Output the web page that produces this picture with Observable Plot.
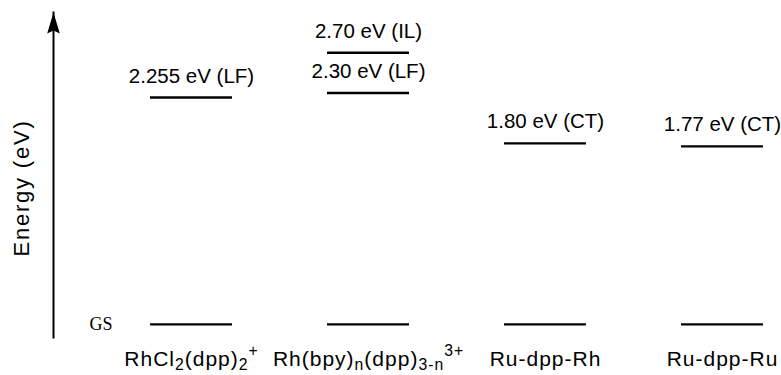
<!DOCTYPE html>
<html>
<head>
<meta charset="utf-8">
<script src="https://cdn.jsdelivr.net/npm/d3@7"></script>
<script src="https://cdn.jsdelivr.net/npm/@observablehq/plot@0.6"></script>
<style>
  html, body { margin: 0; padding: 0; background: #fff; }
</style>
</head>
<body>
<div id="chart"></div>
<script>
// ---- data ----
const categories = [
  "RhCl_{2}(dpp)_{2}^{+}",
  "Rh(bpy)_{n}(dpp)_{3-n}^{3+}",
  "Ru-dpp-Rh",
  "Ru-dpp-Ru"
];
const stateCategory = [categories[0], categories[1], categories[1], categories[2], categories[3]];
const stateEnergy = [2.255, 2.70, 2.30, 1.80, 1.77];
const stateLabel = ["2.255 eV (LF)", "2.70 eV (IL)", "2.30 eV (LF)", "1.80 eV (CT)", "1.77 eV (CT)"];
const groundEnergy = 0;
const groundLabel = "GS";
const axisLabel = "Energy (eV)";

// ---- tables ----
const levels = stateEnergy.map((e, i) => ({category: stateCategory[i], energy: e, label: stateLabel[i]}));
const ground = categories.map(c => ({category: c, energy: groundEnergy}));

const sans = "'Liberation Sans', Arial, Helvetica, sans-serif";
const serif = "'Liberation Serif', 'Times New Roman', serif";

const arrowHead = {
  draw(context, size) {
    const r = Math.sqrt(size / Math.PI);
    context.moveTo(0, 0);
    context.lineTo(0.3 * r, r);
    context.lineTo(0, 0.86 * r);
    context.lineTo(-0.3 * r, r);
    context.closePath();
  }
};

const yDomain = [-0.13, 3.1];

const chart = Plot.plot({
  width: 781,
  height: 375,
  marginLeft: 53,
  marginRight: 0,
  marginTop: 12,
  marginBottom: 38,
  style: {fontFamily: sans, background: "#fff", color: "#000", overflow: "visible"},
  x: {type: "band", domain: categories, paddingInner: 0.539, paddingOuter: 0, insetLeft: 95, insetRight: 17, axis: null},
  y: {domain: yDomain, axis: null},
  marks: [
    Plot.frame({anchor: "left", stroke: "#000", strokeWidth: 2}),
    Plot.dot([0], {frameAnchor: "top-left", symbol: arrowHead, r: 21, fill: "#000", stroke: "none"}),
    Plot.tickY(ground, {x: "category", y: "energy", stroke: "#000", strokeWidth: 2.3}),
    Plot.tickY(levels, {x: "category", y: "energy", stroke: "#000", strokeWidth: 2.3}),
    Plot.text(levels, {x: "category", y: "energy", text: "label", lineAnchor: "bottom", dy: -15, fontSize: 20.5, fill: "#000"}),
    Plot.text([groundLabel], {x: () => categories[0], y: () => groundEnergy, text: d => d, textAnchor: "end", lineAnchor: "middle", dx: -79, fontFamily: serif, fontSize: 18, fill: "#000"}),
    Plot.text(categories, {x: d => d, text: d => d, frameAnchor: "bottom", textAnchor: "middle", lineAnchor: "bottom", dy: 28, fontSize: 21, fill: "#000", ariaLabel: () => "category-label"}),
    Plot.text([axisLabel], {text: d => d, frameAnchor: "left", textAnchor: "middle", rotate: -90, lineAnchor: "bottom", dx: -25, dy: 13, fontSize: 22, fill: "#000", ariaLabel: () => "energy-label"})
  ]
});

// rich text: _{sub} and ^{sup}
function setRich(el, fontSize) {
  const markup = el.textContent;
  const parts = [];
  const re = /(_|\^)\{([^}]*)\}/g;
  let last = 0, m;
  while ((m = re.exec(markup))) {
    if (m.index > last) parts.push({t: markup.slice(last, m.index), k: "n"});
    parts.push({t: m[2], k: m[1] === "_" ? "sub" : "sup"});
    last = re.lastIndex;
  }
  if (last < markup.length) parts.push({t: markup.slice(last), k: "n"});
  const sel = d3.select(el);
  sel.text(null);
  let cur = 0;
  for (const p of parts) {
    const shift = p.k === "sub" ? 4.5 : p.k === "sup" ? -10 : 0;
    const ts = sel.append("tspan").text(p.t);
    if (p.k !== "n") ts.attr("font-size", fontSize * 0.75);
    if (shift !== cur) ts.attr("dy", shift - cur);
    cur = shift;
  }
}
const svg = d3.select(chart);
svg.selectAll('text[aria-label="category-label"]').each(function() { setRich(this, 21); }).attr("letter-spacing", 1);
svg.selectAll('text[aria-label="energy-label"]').attr("letter-spacing", 1.8);

document.getElementById("chart").appendChild(chart);
</script>
</body>
</html>
